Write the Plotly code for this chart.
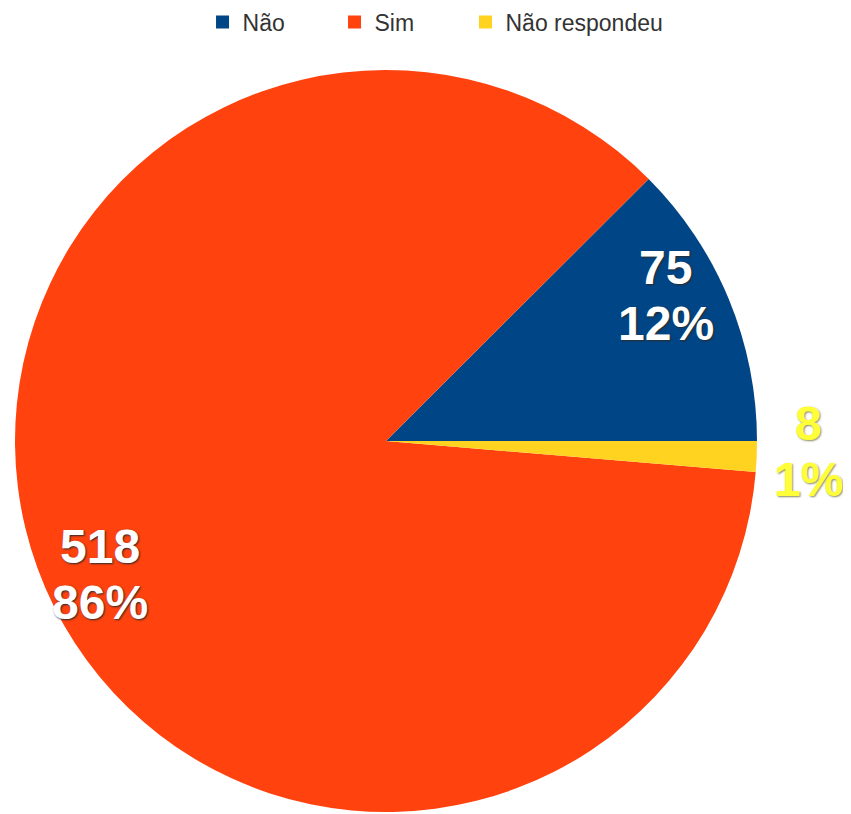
import math
import plotly.graph_objects as go

labels = ["Não", "Sim", "Não respondeu"]
values = [75, 518, 8]
colors = ["#004586", "#ff420e", "#ffd320"]
text_colors = ["#ffffff", "#ffffff", "#ffff38"]
text_shadows = ["1px 1px 2px #2a2a2a", "1px 1px 2px #2a2a2a", "1px 1px 2px #8a8a60"]
label_radius = [0.85, 0.85, 1.14]
label_angle_shift = [5.0, 5.0, 1.0]
legend_x = [0.2286, 0.3837, 0.5376]

total = sum(values)
# Plotly (counterclockwise): first slice ends at 'rotation'; place it so the
# first slice starts at 3 o'clock and the rest continue counterclockwise.
rotation = 90 - 360.0 * values[0] / total

fig = go.Figure(go.Pie(
    labels=labels,
    values=values,
    sort=False,
    direction="counterclockwise",
    rotation=rotation,
    marker=dict(colors=colors, line=dict(width=0)),
    textinfo="none",
    hoverinfo="label+value+percent",
    showlegend=False,
))

# legend entries (one legend per entry so spacing matches the reference)
legend_layout = {}
for i, (lab, col, lx) in enumerate(zip(labels, colors, legend_x)):
    key = "legend" if i == 0 else f"legend{i + 1}"
    fig.add_trace(go.Scatter(
        x=[None], y=[None], mode="markers", name=lab,
        marker=dict(symbol="square", size=13, color=col),
        legend=key, showlegend=True, hoverinfo="skip",
    ))
    legend_layout[key] = dict(
        orientation="h",
        xref="container", yref="container",
        x=lx, xanchor="left",
        y=0.9828, yanchor="middle",
        font=dict(family="Liberation Sans", size=23, color="#333333"),
        bgcolor="rgba(0,0,0,0)",
    )

# labels: value and percent on two lines, placed along each slice's bisector
annotations = []
start = 0.0
for lab, v, col, sh, rr, da in zip(labels, values, text_colors, text_shadows,
                                    label_radius, label_angle_shift):
    span = 360.0 * v / total
    mid = math.radians(start + span / 2 + da)
    start += span
    x = 0.5 + 0.5 * rr * math.cos(mid)
    y = 0.5 + 0.5 * rr * math.sin(mid)
    pct = f"{round(100.0 * v / total):d}%"
    font = dict(family="Liberation Sans", size=48, weight="bold", color=col, shadow=sh)
    for txt, ys in ((str(v), 28), (pct, -28)):
        annotations.append(dict(x=x, y=y, xref="paper", yref="paper", text=txt,
                                showarrow=False, font=font, xanchor="center",
                                yanchor="middle", yshift=ys))

fig.update_layout(
    width=851, height=814,
    margin=dict(l=7, r=102, t=62, b=10),
    paper_bgcolor="white",
    plot_bgcolor="white",
    xaxis=dict(visible=False),
    yaxis=dict(visible=False),
    annotations=annotations,
    **legend_layout,
)

fig.write_html("out.html")
